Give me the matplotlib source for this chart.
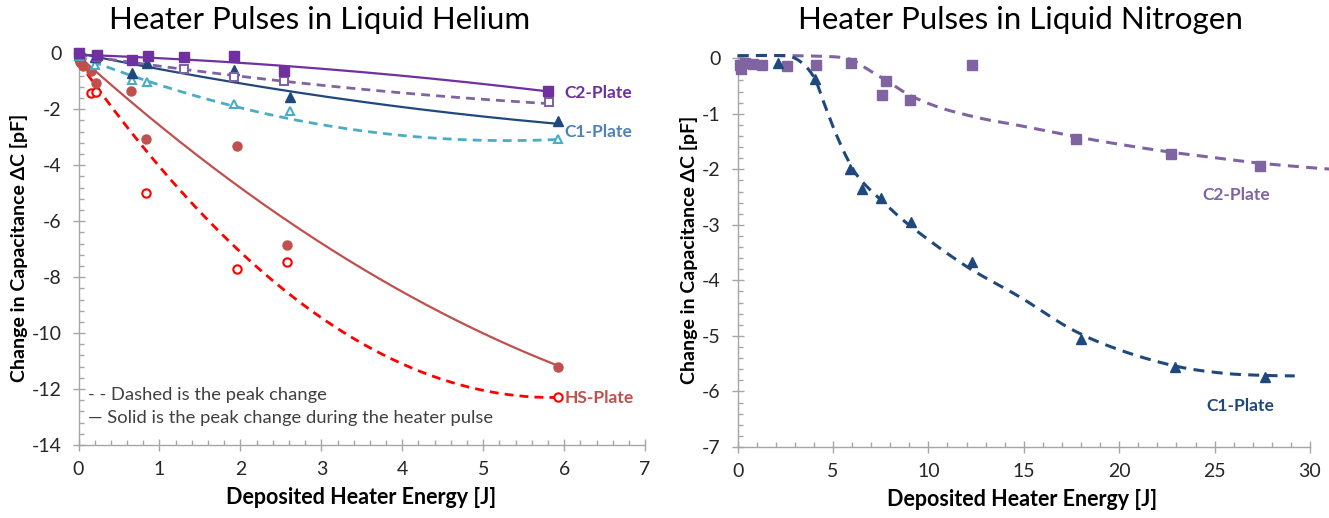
import numpy as np
import matplotlib
matplotlib.use("Agg")
import matplotlib.pyplot as plt
from matplotlib.ticker import MultipleLocator, FormatStrFormatter

plt.rcParams['font.family'] = ['Lato', 'DejaVu Sans']
plt.rcParams['axes.unicode_minus'] = False

# ---------------- Liquid helium: measured points ----------------
he_c2_solid_x = [0.0, 0.23, 0.66, 0.86, 1.30, 1.92, 2.54, 5.80]
he_c2_solid_y = [0.0, -0.06, -0.24, -0.10, -0.13, -0.10, -0.62, -1.35]
he_c2_dash_x = [0.0, 0.23, 1.30, 1.92, 2.54, 5.81]
he_c2_dash_y = [0.0, -0.15, -0.57, -0.86, -0.98, -1.75]

he_c1_solid_x = [0.0, 0.20, 0.66, 0.85, 1.92, 2.61, 5.92]
he_c1_solid_y = [0.0, -0.15, -0.72, -0.36, -0.60, -1.57, -2.42]
he_c1_dash_x = [0.0, 0.20, 0.66, 0.85, 1.92, 2.61, 5.92]
he_c1_dash_y = [-0.10, -0.42, -0.95, -1.01, -1.82, -2.06, -3.06]

he_hs_solid_x = [0.0, 0.02, 0.05, 0.16, 0.22, 0.65, 0.83, 1.96, 2.58, 5.92]
he_hs_solid_y = [-0.05, -0.30, -0.45, -0.62, -1.07, -1.34, -3.07, -3.31, -6.85, -11.2]
he_hs_dash_x = [0.0, 0.03, 0.16, 0.22, 0.83, 1.96, 2.58, 5.92]
he_hs_dash_y = [-0.20, -0.35, -1.43, -1.39, -4.98, -7.72, -7.46, -12.27]

# quadratic trend lines (c0, c1, c2)
he_c2_solid_fit = [-0.05, -0.1034, -0.0212]
he_c2_dash_fit = [-0.05, -0.4305, 0.0223]
he_c1_solid_fit = [0.0, -0.5943, 0.0285]
he_c1_dash_fit = [-0.10, -1.139, 0.1074]
he_hs_solid_fit = [-0.10, -2.60, 0.1236]
he_hs_dash_fit = [-0.30, -4.102, 0.3505]

# ---------------- Liquid nitrogen: measured points ----------------
n2_c2_x = [0.13, 0.20, 0.40, 0.82, 1.26, 2.57, 4.09, 5.93, 7.55, 7.76, 9.04, 12.27,
           17.74, 22.70, 27.38]
n2_c2_y = [-0.13, -0.19, -0.08, -0.10, -0.13, -0.14, -0.13, -0.08, -0.67, -0.41, -0.76,
           -0.13, -1.46, -1.73, -1.94]
n2_c1_x = [2.13, 4.06, 5.89, 6.50, 7.52, 9.09, 12.27, 17.98, 22.93, 27.62]
n2_c1_y = [-0.08, -0.38, -2.00, -2.36, -2.51, -2.94, -3.66, -5.05, -5.56, -5.74]

# smooth trend curves through these knots
n2_c2_trend_x = [0, 2, 4, 5.3, 6.0, 6.45, 7.1, 7.8, 8.5, 9.1, 10.2, 11.3, 13.0, 14.6,
                 17.7, 20.2, 22.7, 25.0, 27.4, 30.4, 31.3]
n2_c2_trend_y = [0.05, 0.05, 0.04, 0.02, -0.03, -0.12, -0.26, -0.40, -0.56, -0.68, -0.84,
                 -0.96, -1.10, -1.20, -1.41, -1.56, -1.69, -1.79, -1.89, -1.98, -2.00]
n2_c1_trend_x = [0, 1, 2, 2.8, 3.5, 4.06, 4.5, 4.93, 5.37, 5.8, 6.4, 7.6, 9.2, 12.0,
                 14.8, 17.5, 20.0, 22.9, 25.4, 27.5, 29.2]
n2_c1_trend_y = [0.04, 0.05, 0.05, 0.03, -0.12, -0.38, -0.78, -1.17, -1.53, -1.84, -2.17,
                 -2.58, -3.06, -3.75, -4.30, -4.88, -5.25, -5.54, -5.67, -5.71, -5.72]


def catmull_rom(xk, yk, n=24):
    p = np.column_stack([xk, yk]).astype(float)
    p = np.vstack([2 * p[0] - p[1], p, 2 * p[-1] - p[-2]])
    out = []
    t = np.linspace(0, 1, n, endpoint=False)[:, None]
    for i in range(1, len(p) - 2):
        p0, p1, p2, p3 = p[i - 1], p[i], p[i + 1], p[i + 2]
        seg = 0.5 * ((2 * p1) + (-p0 + p2) * t + (2 * p0 - 5 * p1 + 4 * p2 - p3) * t ** 2
                     + (-p0 + 3 * p1 - 3 * p2 + p3) * t ** 3)
        out.append(seg)
    out.append(p[-2][None, :])
    out = np.vstack(out)
    return out[:, 0], out[:, 1]


def quad(coef, x0, x1):
    x = np.linspace(x0, x1, 200)
    return x, coef[0] + coef[1] * x + coef[2] * x ** 2


AXIS_GREY = '#A6A6A6'
TICK_TXT = '#262626'


def style_axes(ax, xmaj, xmin, ymaj, ymin):
    for s in ('top', 'right'):
        ax.spines[s].set_visible(False)
    for s in ('left', 'bottom'):
        ax.spines[s].set_color(AXIS_GREY)
        ax.spines[s].set_linewidth(1.0)
    ax.xaxis.set_major_locator(MultipleLocator(xmaj))
    ax.xaxis.set_minor_locator(MultipleLocator(xmin))
    ax.yaxis.set_major_locator(MultipleLocator(ymaj))
    ax.yaxis.set_minor_locator(MultipleLocator(ymin))
    ax.xaxis.set_major_formatter(FormatStrFormatter('%d'))
    ax.yaxis.set_major_formatter(FormatStrFormatter('%d'))
    ax.tick_params(which='major', direction='inout', length=8.5, width=1.0,
                   color=AXIS_GREY, labelsize=14, labelcolor=TICK_TXT)
    ax.tick_params(axis='x', which='major', pad=7)
    ax.tick_params(axis='y', which='major', pad=8)
    ax.tick_params(which='minor', direction='in', length=3.6, width=1.0, color=AXIS_GREY)
    ax.set_facecolor('none')


fig = plt.figure(figsize=(13.29, 5.18), dpi=100)

# ---------------- left panel ----------------
axL = fig.add_axes([0.0591, 0.1409, 0.4263, 0.7562])
axL.set_xlim(0, 7)
axL.set_ylim(-14, 0)
style_axes(axL, 1, 0.2, 2, 0.4)

C2_DARK, C2_LIGHT = '#7030A0', '#8064A2'
C1_DARK, C1_LIGHT = '#1F497D', '#4BACC6'
HS_DARK, HS_LIGHT = '#C0504D', '#FF0000'

dash_style = (0, (3.2, 2.2))

series = [
    (he_hs_dash_fit, he_hs_dash_x, he_hs_dash_y, HS_LIGHT, 'o', False, True),
    (he_hs_solid_fit, he_hs_solid_x, he_hs_solid_y, HS_DARK, 'o', True, False),
    (he_c1_dash_fit, he_c1_dash_x, he_c1_dash_y, C1_LIGHT, '^', False, True),
    (he_c1_solid_fit, he_c1_solid_x, he_c1_solid_y, C1_DARK, '^', True, False),
    (he_c2_dash_fit, he_c2_dash_x, he_c2_dash_y, C2_LIGHT, 's', False, True),
    (he_c2_solid_fit, he_c2_solid_x, he_c2_solid_y, C2_DARK, 's', True, False),
]
for fit, xs, ys, col, mk, filled, dashed in series:
    fx, fy = quad(fit, 0, max(xs))
    axL.plot(fx, fy, color=col, lw=2.0 if dashed else 1.6,
             linestyle=dash_style if dashed else '-', clip_on=False, zorder=2)
    if filled:
        axL.plot(xs, ys, linestyle='none', marker=mk, ms=6.5, color=col,
                 mec=col, clip_on=False, zorder=3)
    else:
        axL.plot(xs, ys, linestyle='none', marker=mk, ms=6.0, mfc='white',
                 mec=col, mew=1.5, clip_on=False, zorder=3)

lab_kw = dict(fontsize=12.5, fontweight='bold', ha='left', va='center')
axL.text(6.0, -1.43, 'C2-Plate', color=C2_DARK, **lab_kw)
axL.text(6.0, -2.81, 'C1-Plate', color='#4F81BD', **lab_kw)
axL.text(6.0, -12.32, 'HS-Plate', color=HS_DARK, **lab_kw)

note_kw = dict(fontsize=13.2, color='#404040', ha='left', va='center',
               transform=axL.transAxes)
axL.text(0.017, 0.128, '- - Dashed is the peak change', **note_kw)
axL.text(0.017, 0.069, '\u2014 Solid is the peak change during the heater pulse', **note_kw)

# ---------------- right panel ----------------
axR = fig.add_axes([0.5550, 0.1371, 0.4307, 0.7504])
axR.set_xlim(0, 30)
axR.set_ylim(-7, 0)
style_axes(axR, 5, 1, 1, 0.2)

N2_C2, N2_C1 = '#8064A2', '#1F497D'
n2_dash = (0, (3.6, 2.4))

tx, ty = catmull_rom(n2_c2_trend_x, n2_c2_trend_y)
axR.plot(tx, ty, color=N2_C2, lw=2.2, linestyle=n2_dash, clip_on=False, zorder=2)
tx, ty = catmull_rom(n2_c1_trend_x, n2_c1_trend_y)
axR.plot(tx, ty, color=N2_C1, lw=2.2, linestyle=n2_dash, clip_on=False, zorder=2)

axR.plot(n2_c2_x, n2_c2_y, linestyle='none', marker='s', ms=7, color=N2_C2,
         clip_on=False, zorder=3)
axR.plot(n2_c1_x, n2_c1_y, linestyle='none', marker='^', ms=7, color=N2_C1,
         clip_on=False, zorder=3)

axR.text(26.16, -2.46, 'C2-Plate', color=N2_C2, fontsize=12.5, fontweight='bold',
         ha='center', va='center')
axR.text(26.37, -6.26, 'C1-Plate', color=N2_C1, fontsize=12.5, fontweight='bold',
         ha='center', va='center')

# ---------------- titles and axis labels ----------------
title_kw = dict(fontsize=22.5, color='#000000', ha='center', va='center')
fig.text(320 / 1329, 1 - 20 / 518, 'Heater Pulses in Liquid Helium', **title_kw)
fig.text(1020 / 1329, 1 - 20 / 518, 'Heater Pulses in Liquid Nitrogen', **title_kw)

ylab_kw = dict(fontsize=14, fontweight='bold', color='#000000', rotation=90,
               ha='center', va='center')
fig.text(19 / 1329, 1 - 248 / 518, 'Change in Capacitance \u0394C [pF]', **ylab_kw)
fig.text(689 / 1329, 1 - 250 / 518, 'Change in Capacitance \u0394C [pF]', **ylab_kw)

xlab_kw = dict(fontsize=15.5, fontweight='bold', color='#000000', ha='center', va='center')
fig.text(361 / 1329, 1 - 497 / 518, 'Deposited Heater Energy [J]', **xlab_kw)
fig.text(1022 / 1329, 1 - 500 / 518, 'Deposited Heater Energy [J]', **xlab_kw)

fig.savefig('out.png', dpi=100, facecolor='white')
